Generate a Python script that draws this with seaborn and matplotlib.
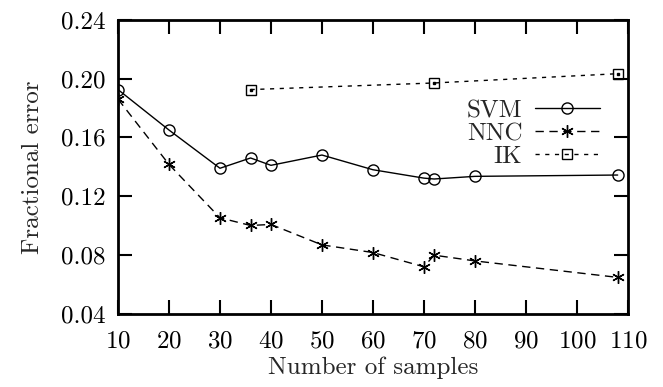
import numpy as np
import pandas as pd
import matplotlib
matplotlib.use('Agg')
import matplotlib.pyplot as plt
import seaborn as sns

# values
svm_x = [10, 20, 30, 36, 40, 50, 60, 70, 72, 80, 108]
svm_err = [0.1925, 0.165, 0.139, 0.146, 0.141, 0.148, 0.138, 0.1323, 0.1317, 0.1335, 0.1344]

nnc_x = [10, 20, 30, 36, 40, 50, 60, 70, 72, 80, 108]
nnc_err = [0.186, 0.1416, 0.1053, 0.1001, 0.1008, 0.0869, 0.0817, 0.072, 0.0799, 0.076, 0.0648]

ik_x = [36, 72, 108]
ik_err = [0.1925, 0.197, 0.2033]

x_ticks = [10, 20, 30, 40, 50, 60, 70, 80, 90, 100, 110]
y_ticks = [0.04, 0.08, 0.12, 0.16, 0.20, 0.24]

sns.set_style('ticks')
plt.rcParams['font.family'] = ['cmr10', 'DejaVu Serif']
plt.rcParams['mathtext.fontset'] = 'cm'
plt.rcParams['axes.formatter.use_mathtext'] = True

fs = 18

fig = plt.figure(figsize=(6.63, 3.87), dpi=100)
ax = fig.add_axes([0.178, 0.189, 0.769, 0.760])

sns.lineplot(x=svm_x, y=svm_err, ax=ax, color='black', lw=1.0, marker='o',
             markersize=8, markerfacecolor='none', markeredgecolor='black',
             markeredgewidth=1.0, label='SVM')
sns.lineplot(x=nnc_x, y=nnc_err, ax=ax, color='black', lw=1.0, marker=(6, 2, 0),
             markersize=9, markeredgecolor='black', markeredgewidth=1.0,
             label='NNC')
ax.lines[-1].set_dashes([6, 4])
sns.lineplot(x=ik_x, y=ik_err, ax=ax, color='black', lw=1.0, marker='s',
             markersize=7, markerfacecolor='none', markeredgecolor='black',
             markeredgewidth=1.0, label='IK')
ax.lines[-1].set_dashes([3, 4])
# small dots in the square markers
ax.plot(ik_x, ik_err, ls='none', marker='s', markersize=2, color='black')

ax.set_xlim(10, 110)
ax.set_ylim(0.04, 0.24)
ax.set_xticks(x_ticks)
ax.set_yticks(y_ticks)
ax.set_yticklabels(['%.2f' % v for v in y_ticks])
ax.tick_params(direction='in', length=10, width=1.5, top=True, right=True,
               labelsize=fs, colors='black')
ax.tick_params(axis='x', pad=12)
ax.tick_params(axis='y', pad=9)
for s in ax.spines.values():
    s.set_linewidth(2)
    s.set_color('black')

ax.set_xlabel('Number of samples', fontsize=fs, labelpad=3)
ax.set_ylabel('Fractional error', fontsize=fs, labelpad=12)

leg = ax.legend(loc='upper right', bbox_to_anchor=(0.945, 0.728), frameon=False,
                markerfirst=False, fontsize=fs, handlelength=2.6,
                labelspacing=0.02, handletextpad=0.5, borderaxespad=0,
                borderpad=0)
for t in leg.get_texts():
    t.set_ha('right')

fig.savefig('out.png', dpi=100)
